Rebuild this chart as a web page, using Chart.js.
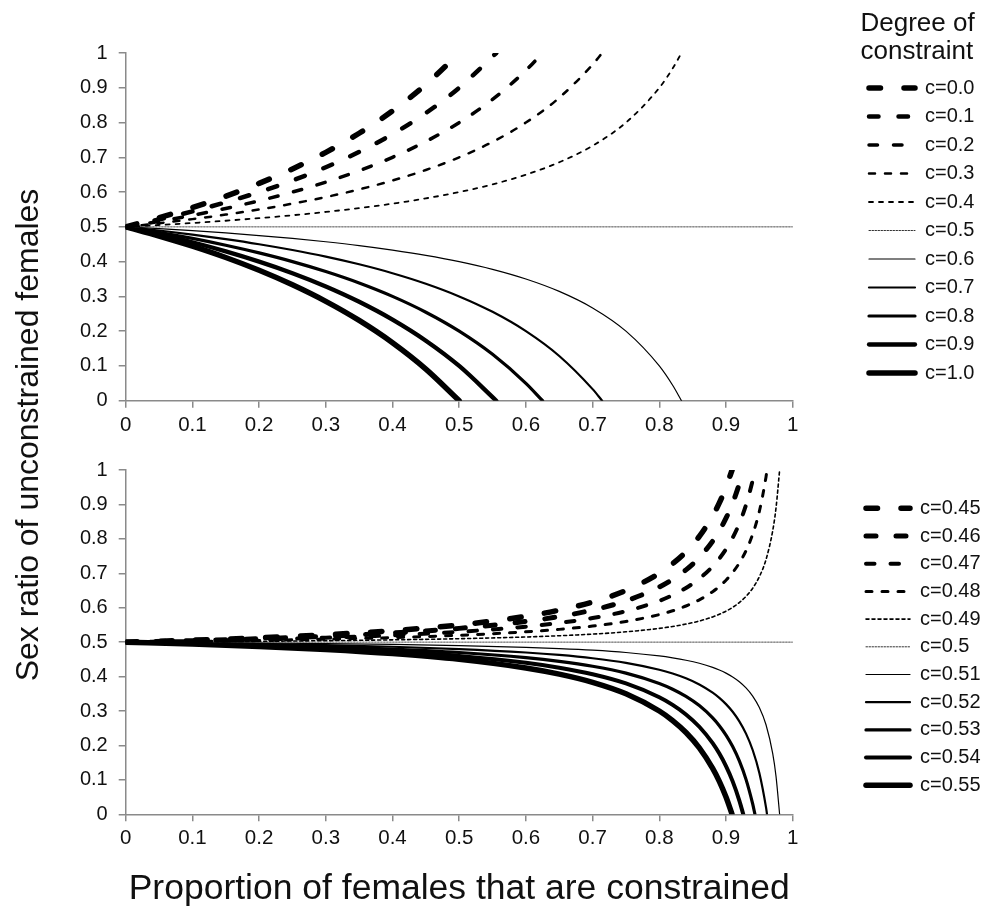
<!DOCTYPE html>
<html><head><meta charset="utf-8">
<script src="https://cdn.jsdelivr.net/npm/chart.js@4.4.1/dist/chart.umd.min.js"></script>
<style>
html,body{margin:0;padding:0;background:#fff;width:983px;height:911px;overflow:hidden;}
#a{position:absolute;left:0;top:0;}
#b{position:absolute;left:0;top:445px;}
#ytitle{position:absolute;left:-273px;top:415px;width:600px;height:40px;line-height:40px;text-align:center;font-family:'Liberation Sans',Arial,sans-serif;font-size:32px;color:#111;transform:rotate(-90deg);transform-origin:50% 50%;white-space:nowrap;}
</style></head><body>
<canvas id="a" width="983" height="445"></canvas>
<canvas id="b" width="983" height="466"></canvas>
<div id="ytitle">Sex ratio of unconstrained females</div>
<script>
// ---- tick labels ----
const xTickLabels = ['0','0.1','0.2','0.3','0.4','0.5','0.6','0.7','0.8','0.9','1'];
const yTickLabels = ['0','0.1','0.2','0.3','0.4','0.5','0.6','0.7','0.8','0.9','1'];
const xAxisTitle = 'Proportion of females that are constrained';
const legendTitle = ['Degree of', 'constraint'];

// ---- top panel ----
const topLabels = ['c=0.0','c=0.1','c=0.2','c=0.3','c=0.4','c=0.5','c=0.6','c=0.7','c=0.8','c=0.9','c=1.0'];
const topX = [0,0.05,0.1,0.15,0.2,0.25,0.3,0.35,0.4,0.45,0.5,0.55,0.6,0.65,0.7,0.75,0.8,0.82];
const topC00 = [.5,.5263,.5556,.5882,.625,.6667,.7143,.7692,.8333,.9091];
const topC01 = [.5,.5211,.5444,.5706,.6,.6333,.6714,.7154,.7667,.8273,.9];
const topC02 = [.5,.5158,.5333,.5529,.575,.6,.6286,.6615,.7,.7455,.8,.8667,.95];
const topC03 = [.5,.5105,.5222,.5353,.55,.5667,.5857,.6077,.6333,.6636,.7,.7444,.8,.8714,.9667];
const topC04 = [.5,.5053,.5111,.5176,.525,.5333,.5429,.5538,.5667,.5818,.6,.6222,.65,.6857,.7333,.8,.9,.9556];
const topC05 = [.5,.5,.5,.5,.5,.5,.5,.5,.5,.5,.5,.5,.5,.5,.5,.5,.5,.5];
const topC06 = [.5,.4947,.4889,.4824,.475,.4667,.4571,.4462,.4333,.4182,.4,.3778,.35,.3143,.2667,.2,.1,.0444];
const topC07 = [.5,.4895,.4778,.4647,.45,.4333,.4143,.3923,.3667,.3364,.3,.2556,.2,.1286,.0333];
const topC08 = [.5,.4842,.4667,.4471,.425,.4,.3714,.3385,.3,.2545,.2,.1333,.05];
const topC09 = [.5,.4789,.4556,.4294,.4,.3667,.3286,.2846,.2333,.1727,.1];
const topC10 = [.5,.4737,.4444,.4118,.375,.3333,.2857,.2308,.1667,.0909];
const topEndX = [.5,.5556,.625,.7143,.8333,1,.8333,.7143,.625,.5556,.5];
const topEndY = [1,1,1,1,1,.5,0,0,0,0,0];

// ---- bottom panel ----
const botLabels = ['c=0.45','c=0.46','c=0.47','c=0.48','c=0.49','c=0.5','c=0.51','c=0.52','c=0.53','c=0.54','c=0.55'];
const botX = [0,0.1,0.2,0.3,0.4,0.5,0.6,0.65,0.7,0.75,0.8,0.82,0.84,0.86,0.88,0.89,0.9,0.91,0.92,0.93,0.94,0.95,0.96,0.97,0.975];
const botC45 = [.5,.5056,.5125,.5214,.5333,.55,.575,.5929,.6167,.65,.7,.7278,.7625,.8071,.8667,.9045,.95];
const botC46 = [.5,.5044,.51,.5171,.5267,.54,.56,.5743,.5933,.62,.66,.6822,.71,.7457,.7933,.8236,.86,.9044,.96];
const botC47 = [.5,.5033,.5075,.5129,.52,.53,.545,.5557,.57,.59,.62,.6367,.6575,.6843,.72,.7427,.77,.8033,.845,.8986,.97];
const botC48 = [.5,.5022,.505,.5086,.5133,.52,.53,.5371,.5467,.56,.58,.5911,.605,.6229,.6467,.6618,.68,.7022,.73,.7657,.8133,.88,.98];
const botC49 = [.5,.5011,.5025,.5043,.5067,.51,.515,.5186,.5233,.53,.54,.5456,.5525,.5614,.5733,.5809,.59,.6011,.615,.6329,.6567,.69,.74,.8233,.89];
const botC50 = [.5,.5,.5,.5,.5,.5,.5,.5,.5,.5,.5,.5,.5,.5,.5,.5,.5,.5,.5,.5,.5,.5,.5,.5,.5];
const botC51 = [.5,.4989,.4975,.4957,.4933,.49,.485,.4814,.4767,.47,.46,.4544,.4475,.4386,.4267,.4191,.41,.3989,.385,.3671,.3433,.31,.26,.1767,.11];
const botC52 = [.5,.4978,.495,.4914,.4867,.48,.47,.4629,.4533,.44,.42,.4089,.395,.3771,.3533,.3382,.32,.2978,.27,.2343,.1867,.12,.02];
const botC53 = [.5,.4967,.4925,.4871,.48,.47,.455,.4443,.43,.41,.38,.3633,.3425,.3157,.28,.2573,.23,.1967,.155,.1014,.03];
const botC54 = [.5,.4956,.49,.4829,.4733,.46,.44,.4257,.4067,.38,.34,.3178,.29,.2543,.2067,.1764,.14,.0956,.04];
const botC55 = [.5,.4944,.4875,.4786,.4667,.45,.425,.4071,.3833,.35,.3,.2722,.2375,.1929,.1333,.0955,.05];
const botEndX = [.9091,.9259,.9434,.9615,.9804,1,.9804,.9615,.9434,.9259,.9091];
const botEndY = [1,1,1,1,1,.5,0,0,0,0,0];

// ---- styles (width, dash) ----
const topStyles = [
  [5.5,[11.5,23.5]],[4.5,[9.5,20]],[3.5,[8.5,16]],[2.5,[6,10]],[1.8,[4,6]],[1,[1.5,1.5]],
  [1.2,[]],[2.2,[]],[3.2,[]],[4.3,[]],[5.5,[]]
];
const botStyles = [
  [5.5,[11.5,23.5]],[5,[10,20]],[4,[8.5,16]],[3,[6,10]],[1.6,[3,3]],[1,[1.5,1.5]],
  [1.2,[]],[2.2,[]],[3.2,[]],[4,[]],[5.5,[]]
];

const FONT = "'Liberation Sans', Arial, sans-serif";
const AXIS = '#8a8a8a';

function pts(xs, ys, ex, ey) {
  const p = [];
  ys.forEach((v, i) => p.push({x: xs[i], y: v}));
  p.push({x: ex, y: ey});
  return p;
}

function build(el, o) {
  const datasets = o.labels.map((lab, i) => ({
    label: lab,
    data: pts(o.xs, o.series[i], o.endX[i], o.endY[i]),
    borderColor: i === 5 ? '#333' : '#000',
    backgroundColor: '#000',
    borderWidth: o.styles[i][0],
    borderDash: o.styles[i][1],
    borderCapStyle: 'round',
    borderJoinStyle: 'round',
    pointRadius: 0, pointHoverRadius: 0,
    cubicInterpolationMode: 'monotone',
    fill: false,
    xAxisID: 'x', yAxisID: 'y'
  }));
  const chart = new Chart(el, {
    type: 'line',
    data: { datasets },
    options: {
      responsive: false, animation: false, events: [],
      layout: { padding: { left: 0, top: o.padTop, right: 0, bottom: 0 } },
      plugins: {
        tooltip: { enabled: false },
        legend: {
          position: 'right', align: 'start',
          title: o.legendTitle,
          labels: {
            font: { family: FONT, size: 20 }, color: '#111',
            padding: o.lp, usePointStyle: true, pointStyleWidth: o.boxW,
            generateLabels: (ch) => ch.data.datasets.map((ds, i) => ({
              text: ds.label, datasetIndex: i, hidden: false,
              strokeStyle: ds.borderColor, fillStyle: ds.borderColor,
              lineWidth: ds.borderWidth, lineDash: ds.borderDash, lineDashOffset: 0,
              lineCap: 'round', lineJoin: 'round', pointStyle: 'line', fontColor: '#111'
            }))
          }
        }
      },
      scales: {
        x: {
          type: 'linear', position: 'bottom', min: 0, max: 1,
          ticks: { stepSize: 0.1, autoSkip: false, maxRotation: 0, padding: 5, color: '#111',
                   font: { family: FONT, size: 20.5 }, callback: (v, i) => xTickLabels[i] },
          grid: { display: true, drawOnChartArea: false, drawTicks: true, tickLength: 7, color: AXIS, lineWidth: 1.5 },
          border: { display: true, color: AXIS, width: 1.5 },
          title: o.xTitle,
          afterFit: s => { s.height = o.xAxisH; }
        },
        xTop: {
          axis: 'x', type: 'linear', position: 'top', display: true,
          ticks: { display: false }, grid: { display: false }, border: { display: false },
          afterFit: s => { s.height = o.topAxisH; }
        },
        y: {
          type: 'linear', position: 'left', min: 0, max: 1,
          ticks: { stepSize: 0.1, autoSkip: false, padding: 11, color: '#111',
                   font: { family: FONT, size: 20 }, callback: (v, i) => yTickLabels[i] },
          grid: { display: true, drawOnChartArea: false, drawTicks: true, tickLength: 7, color: AXIS, lineWidth: 1.5 },
          border: { display: true, color: AXIS, width: 1.5 },
          afterFit: s => { s.width = 125.7; }
        },
        yR: {
          axis: 'y', type: 'linear', position: 'right', display: true,
          ticks: { display: false }, grid: { display: false }, border: { display: false },
          afterFit: s => { s.width = o.rightW; }
        }
      }
    }
  });
  for (let k = 0; k < 3; k++) {
    const dx = chart.chartArea.right - 792.7;
    if (Math.abs(dx) < 0.2) break;
    chart.config.options.layout.padding.right += dx;
    chart.update('none');
  }
  return chart;
}

build(document.getElementById('a'), {
  labels: topLabels, xs: topX,
  series: [topC00, topC01, topC02, topC03, topC04, topC05, topC06, topC07, topC08, topC09, topC10],
  endX: topEndX, endY: topEndY, styles: topStyles,
  padTop: 5, topAxisH: 48, xAxisH: 44.3, rightW: 67.8, lp: 8.5, boxW: 46,
  xTitle: { display: false },
  legendTitle: { display: true, text: legendTitle, position: 'start', color: '#111',
                 font: { family: FONT, size: 26, lineHeight: '28px' }, padding: { top: 6, bottom: 30.5 } }
});

build(document.getElementById('b'), {
  labels: botLabels, xs: botX,
  series: [botC45, botC46, botC47, botC48, botC49, botC50, botC51, botC52, botC53, botC54, botC55],
  endX: botEndX, endY: botEndY, styles: botStyles,
  padTop: 2, topAxisH: 23, xAxisH: 96.7, rightW: 65.6, lp: 7.7, boxW: 44,
  xTitle: { display: true, text: xAxisTitle, color: '#111', font: { family: FONT, size: 35.5 }, padding: { top: 0, bottom: 0 } },
  legendTitle: { display: true, text: '', font: { family: FONT, size: 20 }, padding: { top: 19.6, bottom: 0 } }
});
</script>
</body></html>
